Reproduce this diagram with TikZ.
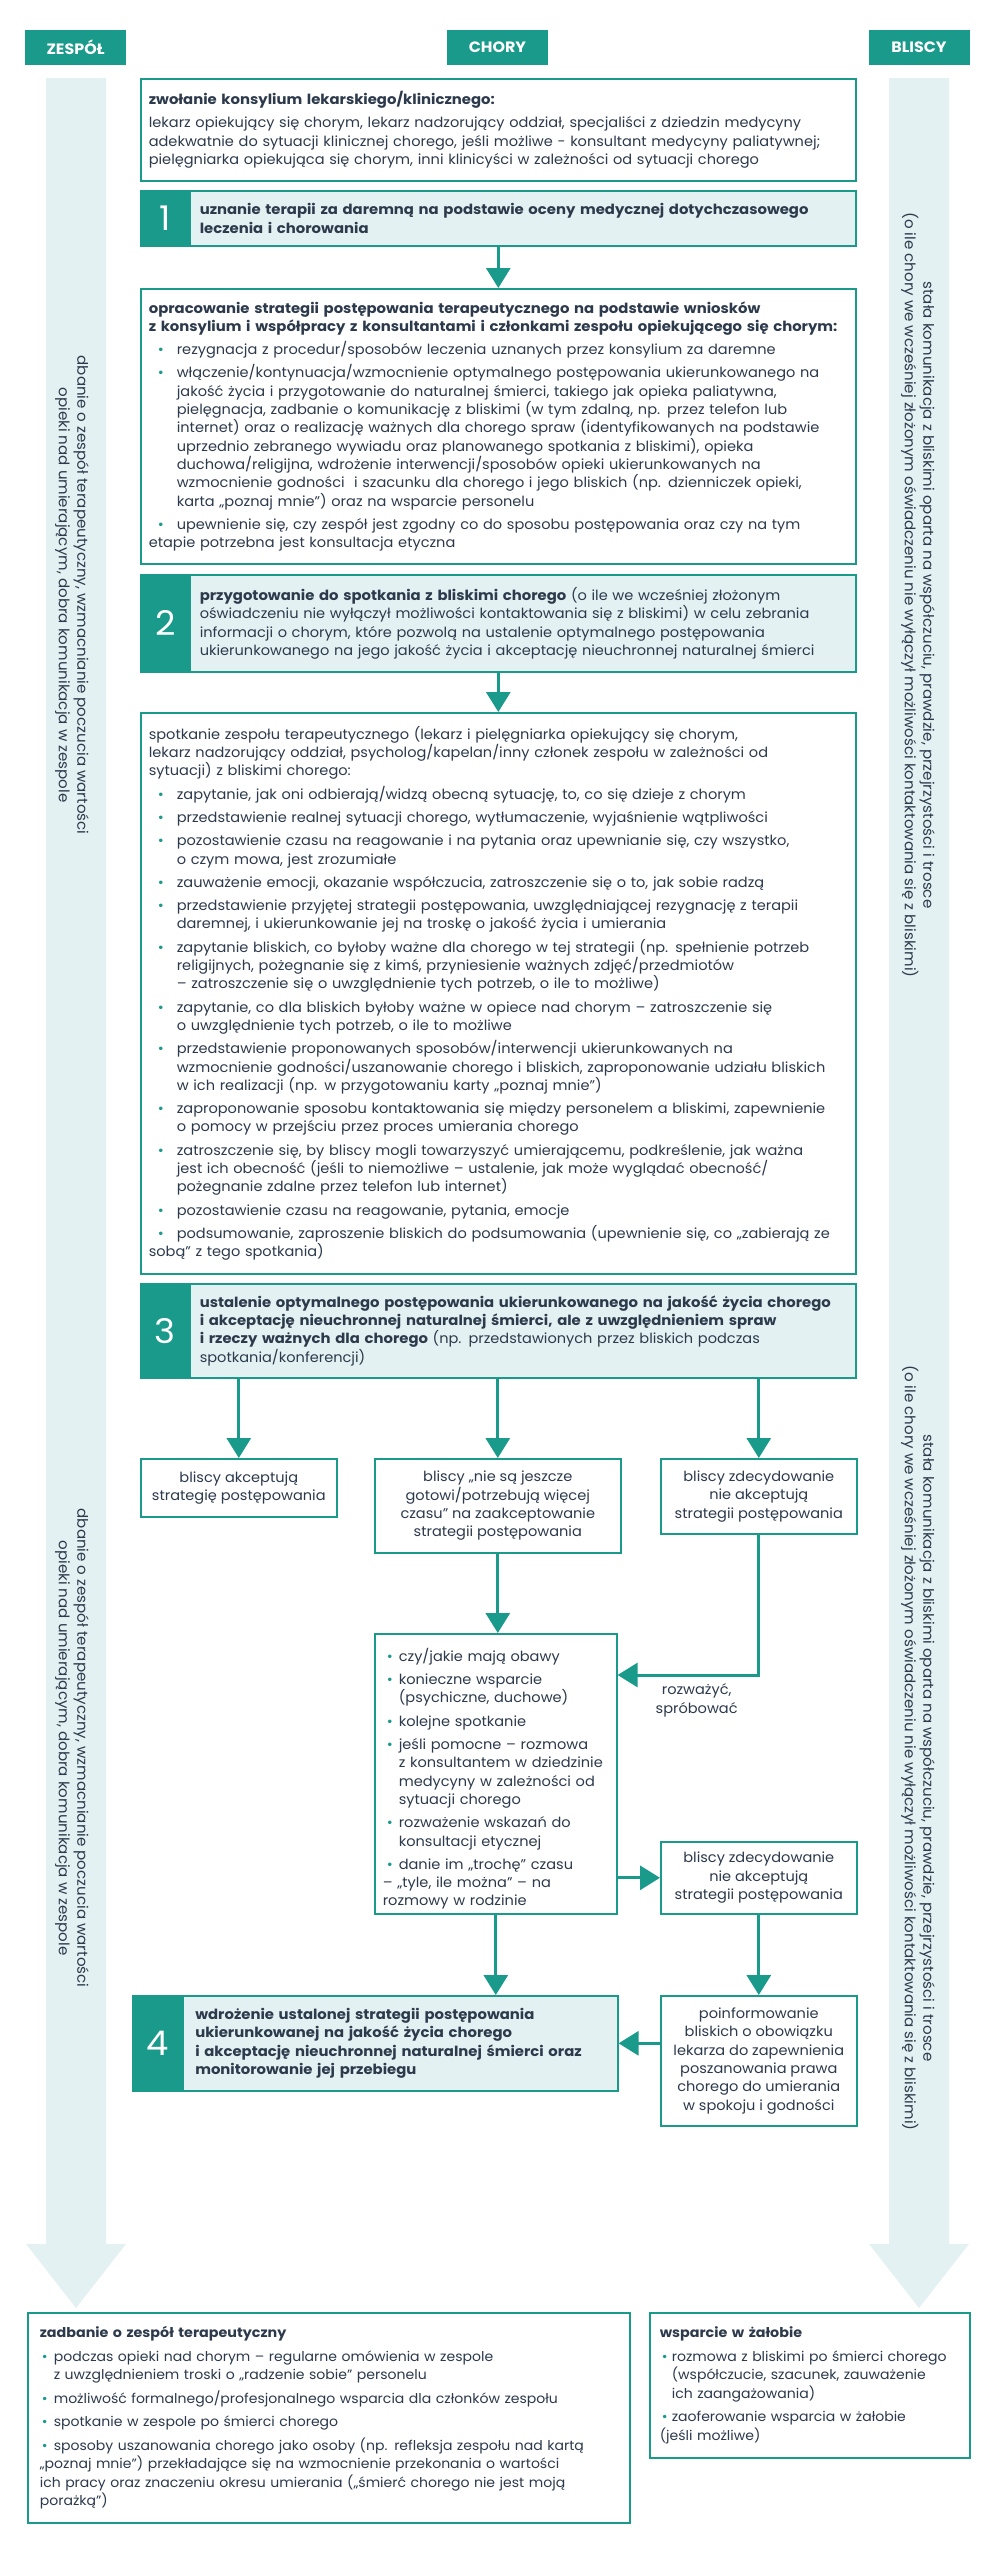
\documentclass[tikz,border=0pt]{standalone}
\usepackage{fontspec}
\setmainfont{Poppins}[UprightFeatures={FakeStretch=1.04}, BoldFeatures={FakeStretch=1.06}]
\usetikzlibrary{arrows.meta,calc}

\definecolor{tealc}{HTML}{1A9A8B}
\definecolor{pale}{HTML}{E3F1F2}
\definecolor{ink}{HTML}{2C3A4C}

\newcommand\bodyfont{\fontsize{14}{18.3}\selectfont}
\newcommand\footfont{\fontsize{13.5}{18.5}\selectfont}
\newlength\bulind
\newlength\buloff
\newcommand\pkt[1]{\par\hangindent=\bulind\hangafter=1\noindent
  \hbox to\bulind{\hskip\buloff\textcolor{tealc}{\textbullet}\hfil}#1}

\begin{document}
\begin{tikzpicture}[x=1pt,y=-1pt]
    \tikzstyle{every node}=[text=ink]
    \tikzstyle{naglowek}=[fill=tealc, text=white, font=\fontsize{15}{15}\selectfont\bfseries,
      minimum width=101pt, minimum height=35pt, inner sep=0pt]
    \tikzstyle{ramka}=[draw=tealc, line width=1.6pt, fill=white, anchor=north west,
      inner xsep=8pt, inner ysep=0pt, font=\bodyfont,
      execute at begin node={\setlength{\parskip}{5pt}\raggedright}]
    \tikzstyle{krok}=[ramka, fill=pale]
    \tikzstyle{nr}=[draw=tealc, line width=1.6pt, fill=tealc, anchor=north west, text=white,
      font=\fontsize{34}{34}\selectfont, minimum width=49pt, inner sep=0pt]
    \tikzstyle{wybor}=[draw=tealc, line width=1.6pt, fill=white, anchor=north west,
      align=center, inner sep=3pt, font=\bodyfont]
    \tikzstyle{bok}=[rotate=-90, align=center, font=\fontsize{14.5}{18.5}\selectfont]
    \tikzstyle{strz}=[draw=tealc, line width=3pt, -{Triangle[width=24pt,length=20pt]}]

    \useasboundingbox (0,0) rectangle (996,2560);

    \fill[pale] (46,78) -- (106,78) -- (106,2244) -- (126,2244) -- (76,2308)
      -- (26,2244) -- (46,2244) -- cycle;
    \fill[pale] (889,78) -- (949,78) -- (949,2244) -- (969,2244) -- (919,2308)
      -- (869,2244) -- (889,2244) -- cycle;

    \node[naglowek] (zespol) at (75.5,47.5) {ZESPÓŁ};
    \node[naglowek] (chory) at (497.5,47.5) {CHORY};
    \node[naglowek] (bliscy) at (919,47.5) {BLISCY};

    \node[bok] (zesp1) at (72,595) {dbanie o zespół terapeutyczny, wzmacnianie poczucia wartości\\
      opieki nad umierającym, dobra komunikacja w zespole};
    \node[bok] (zesp2) at (72,1748) {dbanie o zespół terapeutyczny, wzmacnianie poczucia wartości\\
      opieki nad umierającym, dobra komunikacja w zespole};
    \node[bok] (blis1) at (918,595) {stała komunikacja z bliskimi oparta na współczuciu, prawdzie, przejrzystości i trosce\\
      (o ile chory we wcześniej złożonym oświadczeniu nie wyłączył możliwości kontaktowania się z bliskimi)};
    \node[bok] (blis2) at (918,1748) {stała komunikacja z bliskimi oparta na współczuciu, prawdzie, przejrzystości i trosce\\
      (o ile chory we wcześniej złożonym oświadczeniu nie wyłączył możliwości kontaktowania się z bliskimi)};

    \node[ramka, inner xsep=8pt, text width=699pt, minimum height=102pt] (kons) at (140,78)
    {\textbf{zwołanie konsylium lekarskiego/klinicznego:}\par
    lekarz opiekujący się chorym, lekarz nadzorujący oddział, specjaliści z dziedzin medycyny\newline
    adekwatnie do sytuacji klinicznej chorego, jeśli możliwe - konsultant medycyny paliatywnej;\newline
    pielęgniarka opiekująca się chorym, inni klinicyści w zależności od sytuacji chorego};

    \node[nr, minimum height=55pt] (n1) at (140,190) {1};
    \node[krok, inner xsep=10pt, text width=646pt, minimum height=55pt] (s1) at (189,190)
    {\textbf{uznanie terapii za daremną na podstawie oceny medycznej dotychczasowego\newline
    leczenia i chorowania}};

    \setlength\bulind{28pt}\setlength\buloff{9pt}
    \node[ramka, text width=699pt, minimum height=275pt] (strat) at (140,288)
    {\textbf{opracowanie strategii postępowania terapeutycznego na podstawie wniosków\newline
    z konsylium i współpracy z konsultantami i członkami zespołu opiekującego się chorym:}
    \pkt{rezygnacja z procedur/sposobów leczenia uznanych przez konsylium za daremne}
    \pkt{włączenie/kontynuacja/wzmocnienie optymalnego postępowania ukierunkowanego na\newline
    jakość życia i przygotowanie do naturalnej śmierci, takiego jak opieka paliatywna,\newline
    pielęgnacja, zadbanie o komunikację z bliskimi (w tym zdalną, np. przez telefon lub\newline
    internet) oraz o realizację ważnych dla chorego spraw (identyfikowanych na podstawie\newline
    uprzednio zebranego wywiadu oraz planowanego spotkania z bliskimi), opieka\newline
    duchowa/religijna, wdrożenie interwencji/sposobów opieki ukierunkowanych na\newline
    wzmocnienie godności\ \ i szacunku dla chorego i jego bliskich (np. dzienniczek opieki,\newline
    karta „poznaj mnie”) oraz na wsparcie personelu}
    \pkt{upewnienie się, czy zespół jest zgodny co do sposobu postępowania oraz czy na tym\newline
    etapie potrzebna jest konsultacja etyczna}};

    \node[nr, minimum height=97pt] (n2) at (140,574) {2};
    \node[krok, inner xsep=10pt, text width=646pt, minimum height=97pt] (s2) at (189,574)
    {\textbf{przygotowanie do spotkania z bliskimi chorego} (o ile we wcześniej złożonym\newline
    oświadczeniu nie wyłączył możliwości kontaktowania się z bliskimi) w celu zebrania\newline
    informacji o chorym, które pozwolą na ustalenie optymalnego postępowania\newline
    ukierunkowanego na jego jakość życia i akceptację nieuchronnej naturalnej śmierci};

    \node[ramka, text width=699pt, minimum height=561pt] (meet) at (140,712)
    {spotkanie zespołu terapeutycznego (lekarz i pielęgniarka opiekujący się chorym,\newline
    lekarz nadzorujący oddział, psycholog/kapelan/inny członek zespołu w zależności od\newline
    sytuacji) z bliskimi chorego:
    \pkt{zapytanie, jak oni odbierają/widzą obecną sytuację, to, co się dzieje z chorym}
    \pkt{przedstawienie realnej sytuacji chorego, wytłumaczenie, wyjaśnienie wątpliwości}
    \pkt{pozostawienie czasu na reagowanie i na pytania oraz upewnianie się, czy wszystko,\newline
    o czym mowa, jest zrozumiałe}
    \pkt{zauważenie emocji, okazanie współczucia, zatroszczenie się o to, jak sobie radzą}
    \pkt{przedstawienie przyjętej strategii postępowania, uwzględniającej rezygnację z terapii\newline
    daremnej, i ukierunkowanie jej na troskę o jakość życia i umierania}
    \pkt{zapytanie bliskich, co byłoby ważne dla chorego w tej strategii (np. spełnienie potrzeb\newline
    religijnych, pożegnanie się z kimś, przyniesienie ważnych zdjęć/przedmiotów\newline
    – zatroszczenie się o uwzględnienie tych potrzeb, o ile to możliwe)}
    \pkt{zapytanie, co dla bliskich byłoby ważne w opiece nad chorym – zatroszczenie się\newline
    o uwzględnienie tych potrzeb, o ile to możliwe}
    \pkt{przedstawienie proponowanych sposobów/interwencji ukierunkowanych na\newline
    wzmocnienie godności/uszanowanie chorego i bliskich, zaproponowanie udziału bliskich\newline
    w ich realizacji (np. w przygotowaniu karty „poznaj mnie”)}
    \pkt{zaproponowanie sposobu kontaktowania się między personelem a bliskimi, zapewnienie\newline
    o pomocy w przejściu przez proces umierania chorego}
    \pkt{zatroszczenie się, by bliscy mogli towarzyszyć umierającemu, podkreślenie, jak ważna\newline
    jest ich obecność (jeśli to niemożliwe – ustalenie, jak może wyglądać obecność/\newline
    pożegnanie zdalne przez telefon lub internet)}
    \pkt{pozostawienie czasu na reagowanie, pytania, emocje}
    \pkt{podsumowanie, zaproszenie bliskich do podsumowania (upewnienie się, co „zabierają ze\newline
    sobą” z tego spotkania)}};

    \node[nr, minimum height=94pt] (n3) at (140,1283) {3};
    \node[krok, inner xsep=10pt, text width=646pt, minimum height=94pt] (s3) at (189,1283)
    {\textbf{ustalenie optymalnego postępowania ukierunkowanego na jakość życia chorego\newline
    i akceptację nieuchronnej naturalnej śmierci, ale z uwzględnieniem spraw\newline
    i rzeczy ważnych dla chorego} (np. przedstawionych przez bliskich podczas\newline
    spotkania/konferencji)};

    \node[wybor, minimum width=196pt, minimum height=58pt] (acc) at (140,1458)
      {bliscy akceptują\\strategię postępowania};
    \node[wybor, minimum width=246pt, minimum height=94pt] (notyet) at (374,1458)
      {bliscy „nie są jeszcze\\gotowi/potrzebują więcej\\czasu” na zaakceptowanie\\strategii postępowania};
    \node[wybor, minimum width=196pt, minimum height=75pt] (rej) at (660,1458)
      {bliscy zdecydowanie\\nie akceptują\\strategii postępowania};

    \setlength\bulind{16pt}\setlength\buloff{4pt}
    \node[ramka, inner xsep=8pt, text width=226pt, minimum height=280pt] (mid) at (374,1633)
    {\pkt{czy/jakie mają obawy}
    \pkt{konieczne wsparcie\newline(psychiczne, duchowe)}
    \pkt{kolejne spotkanie}
    \pkt{jeśli pomocne – rozmowa\newline z konsultantem w dziedzinie\newline medycyny w zależności od\newline sytuacji chorego}
    \pkt{rozważenie wskazań do\newline konsultacji etycznej}
    \pkt{danie im „trochę” czasu\newline – „tyle, ile można” – na\newline rozmowy w rodzinie}};

    \node[wybor, minimum width=196pt, minimum height=72pt] (rej2) at (660,1841)
      {bliscy zdecydowanie\\nie akceptują\\strategii postępowania};
    \node[wybor, minimum width=196pt, minimum height=130pt] (inform) at (660,1995)
      {poinformowanie\\bliskich o obowiązku\\lekarza do zapewnienia\\poszanowania prawa\\chorego do umierania\\w spokoju i godności};

    \node[nr, minimum width=50pt, minimum height=95pt] (n4) at (132,1995) {4};
    \node[krok, inner xsep=12.5pt, text width=410pt, minimum height=95pt] (s4) at (182,1995)
    {\bfseries\makebox[\hsize][s]{wdrożenie ustalonej strategii postępowania}\newline
    \makebox[\hsize][s]{ukierunkowanej na jakość życia chorego}\newline
    \makebox[\hsize][s]{i akceptację nieuchronnej naturalnej śmierci oraz}\newline
    monitorowanie jej przebiegu};

    \setlength\bulind{14pt}\setlength\buloff{2pt}
    \node[ramka, font=\footfont, inner xsep=12pt, text width=578pt, minimum height=210pt] (team) at (27,2312)
    {\textbf{zadbanie o zespół terapeutyczny}
    \pkt{podczas opieki nad chorym – regularne omówienia w zespole\newline
    z uwzględnieniem troski o „radzenie sobie” personelu}
    \pkt{możliwość formalnego/profesjonalnego wsparcia dla członków zespołu}
    \pkt{spotkanie w zespole po śmierci chorego}
    \pkt{sposoby uszanowania chorego jako osoby (np. refleksja zespołu nad kartą\newline
    „poznaj mnie”) przekładające się na wzmocnienie przekonania o wartości\newline
    ich pracy oraz znaczeniu okresu umierania („śmierć chorego nie jest moją\newline
    porażką”)}};

    \setlength\bulind{12pt}
    \node[ramka, font=\footfont, inner xsep=10pt, text width=300pt, minimum height=145pt] (grief) at (649,2312)
    {\textbf{wsparcie w żałobie}
    \pkt{rozmowa z bliskimi po śmierci chorego\newline(współczucie, szacunek, zauważenie\newline ich zaangażowania)}
    \pkt{zaoferowanie wsparcia w żałobie\newline(jeśli możliwe)}};

    \draw[strz] (strat.north |- s1.south) -- (strat.north);
    \draw[strz] (meet.north |- s2.south) -- (meet.north);
    \draw[strz] (s3.south -| acc.north) -- (acc.north);
    \draw[strz] (s3.south -| notyet.north) -- (notyet.north);
    \draw[strz] (s3.south -| rej.north) -- (rej.north);
    \draw[strz] (notyet.south) -- (notyet.south |- mid.north);
    \draw[strz] (rej.south) |- ([yshift=-42pt]mid.north east)
      node[pos=0.72, below=4pt, align=center, font=\bodyfont] (rozw) {rozważyć,\\spróbować};
    \draw[strz] (mid.east |- rej2.west) -- (rej2.west);
    \draw[strz] (mid.south) -- (mid.south |- s4.north);
    \draw[strz] (rej2.south) -- (inform.north);
    \draw[strz] (inform.west |- s4.east) -- (s4.east);

\end{tikzpicture}
\end{document}
